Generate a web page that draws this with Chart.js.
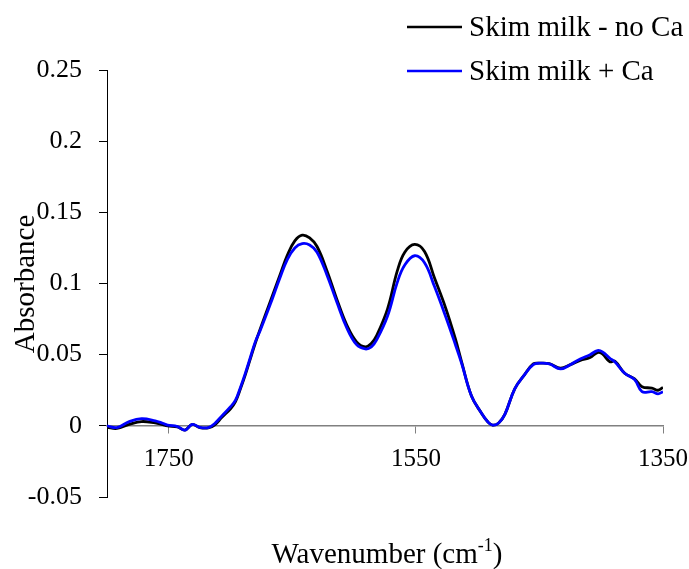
<!DOCTYPE html>
<html>
<head>
<meta charset="utf-8">
<script src="https://cdn.jsdelivr.net/npm/chart.js@4.4.1/dist/chart.umd.min.js"></script>
<style>
  html, body { margin: 0; padding: 0; background: #ffffff; }
  canvas { display: block; }
</style>
</head>
<body>
<canvas id="myChart" width="689" height="569"></canvas>
<script>
// FTIR spectra, amide I / amide II region
const wavenumbers = [
  1800, 1792, 1782, 1772, 1761, 1755, 1751, 1743, 1737, 1731, 1725, 1718, 1713, 1707,
  1700, 1696, 1692, 1688, 1684, 1680, 1676, 1668, 1660, 1654, 1648, 1642, 1636, 1630,
  1622, 1614, 1606, 1598, 1591, 1586, 1582, 1573, 1565, 1559, 1551, 1543, 1535, 1526,
  1518, 1513, 1505, 1497, 1492, 1488, 1483, 1478, 1470, 1462, 1455, 1450, 1442, 1433,
  1425, 1417, 1409, 1403, 1399, 1393, 1389, 1381, 1373, 1367, 1359, 1354, 1350
];
const noCa = [
  -0.001, -0.0018, 0.001, 0.003, 0.002, 0.0008, 0.0, -0.0008, -0.003, 0.001, -0.0012, -0.0015, 0.0005, 0.006,
  0.012, 0.017, 0.026, 0.036, 0.047, 0.058, 0.068, 0.087, 0.106, 0.120, 0.130, 0.134, 0.132, 0.126,
  0.109, 0.089, 0.071, 0.059, 0.0555, 0.058, 0.063, 0.082, 0.109, 0.122, 0.1275, 0.1225, 0.104, 0.083,
  0.061, 0.045, 0.021, 0.009, 0.003, 0.0005, 0.002, 0.008, 0.026, 0.036, 0.0435, 0.044, 0.0437, 0.0405,
  0.043, 0.046, 0.048, 0.0515, 0.0505, 0.045, 0.0455, 0.037, 0.033, 0.0275, 0.0265, 0.025, 0.027
];
const withCa = [
  0.0, -0.0012, 0.003, 0.005, 0.0035, 0.0018, 0.0005, -0.0005, -0.003, 0.001, -0.001, -0.0012, 0.0015, 0.007,
  0.0135, 0.018, 0.027, 0.037, 0.048, 0.059, 0.067, 0.085, 0.104, 0.117, 0.125, 0.128, 0.127, 0.122,
  0.106, 0.087, 0.069, 0.057, 0.054, 0.0555, 0.060, 0.077, 0.101, 0.113, 0.1195, 0.1145, 0.098, 0.077,
  0.057, 0.044, 0.021, 0.009, 0.003, 0.0005, 0.002, 0.008, 0.026, 0.036, 0.043, 0.044, 0.0435, 0.040,
  0.043, 0.047, 0.050, 0.0529, 0.052, 0.0475, 0.045, 0.037, 0.0325, 0.024, 0.024, 0.0225, 0.024
];
const seriesNames = ['Skim milk - no Ca', 'Skim milk + Ca'];
const xTicks = [1750, 1550, 1350];
const yTicks = [-0.05, 0, 0.05, 0.1, 0.15, 0.2, 0.25];

const serif = "'Liberation Serif', 'Times New Roman', serif";

function toPoints(values) {
  return wavenumbers.map((w, i) => ({ x: w, y: values[i] }));
}

// legend in the top right corner plus the two axis titles
const extras = {
  id: 'extras',
  afterDraw(chart) {
    const ctx = chart.ctx;
    ctx.save();
    ctx.font = '29px ' + serif;
    ctx.textBaseline = 'middle';
    ctx.textAlign = 'left';
    chart.data.datasets.forEach((ds, i) => {
      const y = 27 + i * 44;
      ctx.strokeStyle = ds.borderColor;
      ctx.lineWidth = 2.5;
      ctx.beginPath();
      ctx.moveTo(407, y);
      ctx.lineTo(462, y);
      ctx.stroke();
      ctx.fillStyle = '#000';
      ctx.fillText(ds.label, 469, y + 1);
    });

    // y title
    ctx.save();
    ctx.translate(34, 284);
    ctx.rotate(-Math.PI / 2);
    ctx.textAlign = 'center';
    ctx.textBaseline = 'alphabetic';
    ctx.fillText('Absorbance', 0, 0);
    ctx.restore();

    // x title with superscript
    const a = 'Wavenumber (cm', sup = '-1', b = ')';
    ctx.textBaseline = 'alphabetic';
    ctx.font = '29px ' + serif;
    const wa = ctx.measureText(a).width, wb = ctx.measureText(b).width;
    ctx.font = '18px ' + serif;
    const ws = ctx.measureText(sup).width;
    let x = 387 - (wa + ws + wb) / 2;
    const base = 563;
    ctx.font = '29px ' + serif;
    ctx.fillText(a, x, base);
    x += wa;
    ctx.font = '18px ' + serif;
    ctx.fillText(sup, x, base - 12);
    x += ws;
    ctx.font = '29px ' + serif;
    ctx.fillText(b, x, base);
    ctx.restore();
  }
};

const ctx = document.getElementById('myChart');

const myChart = new Chart(ctx, {
  type: 'line',
  data: {
    datasets: [
      {
        label: seriesNames[0],
        data: toPoints(noCa),
        borderColor: '#000000',
        borderWidth: 2.8,
        pointRadius: 0,
        tension: 0.4,
        fill: false,
        order: 2
      },
      {
        label: seriesNames[1],
        data: toPoints(withCa),
        borderColor: '#0000FF',
        borderWidth: 2.8,
        pointRadius: 0,
        tension: 0.4,
        fill: false,
        order: 1
      }
    ]
  },
  options: {
    responsive: false,
    animation: false,
    devicePixelRatio: 1,
    layout: { padding: { left: 0, top: 70, right: 26, bottom: 72 } },
    plugins: {
      legend: { display: false },
      tooltip: { enabled: false }
    },
    scales: {
      x: {
        type: 'linear',
        position: { y: 0 },
        min: 1350,
        max: 1800,
        reverse: true,
        afterBuildTicks: (scale) => { scale.ticks = xTicks.map(v => ({ value: v })); },
        // the last label may run past the plot edge, no extra room for it
        afterFit: (scale) => { scale.paddingLeft = 0; scale.paddingRight = 0; },
        border: { color: '#808080', width: 1.5 },
        grid: { drawOnChartArea: false, drawTicks: true, tickLength: 7, color: '#808080' },
        ticks: {
          color: '#000',
          font: { family: serif, size: 25 },
          padding: 12,
          maxRotation: 0,
          autoSkip: false,
          callback: (v) => String(v)
        }
      },
      y: {
        min: -0.05,
        max: 0.25,
        afterFit: (scale) => { scale.width = 107; },
        afterBuildTicks: (scale) => { scale.ticks = yTicks.map(v => ({ value: v })); },
        border: { color: '#000', width: 1 },
        grid: { drawOnChartArea: false, drawTicks: true, tickLength: 8, color: '#000' },
        ticks: {
          color: '#000',
          font: { family: serif, size: 26 },
          padding: 17,
          callback: (v) => String(+Number(v).toFixed(2))
        }
      }
    }
  },
  plugins: [extras]
});
</script>
</body>
</html>
